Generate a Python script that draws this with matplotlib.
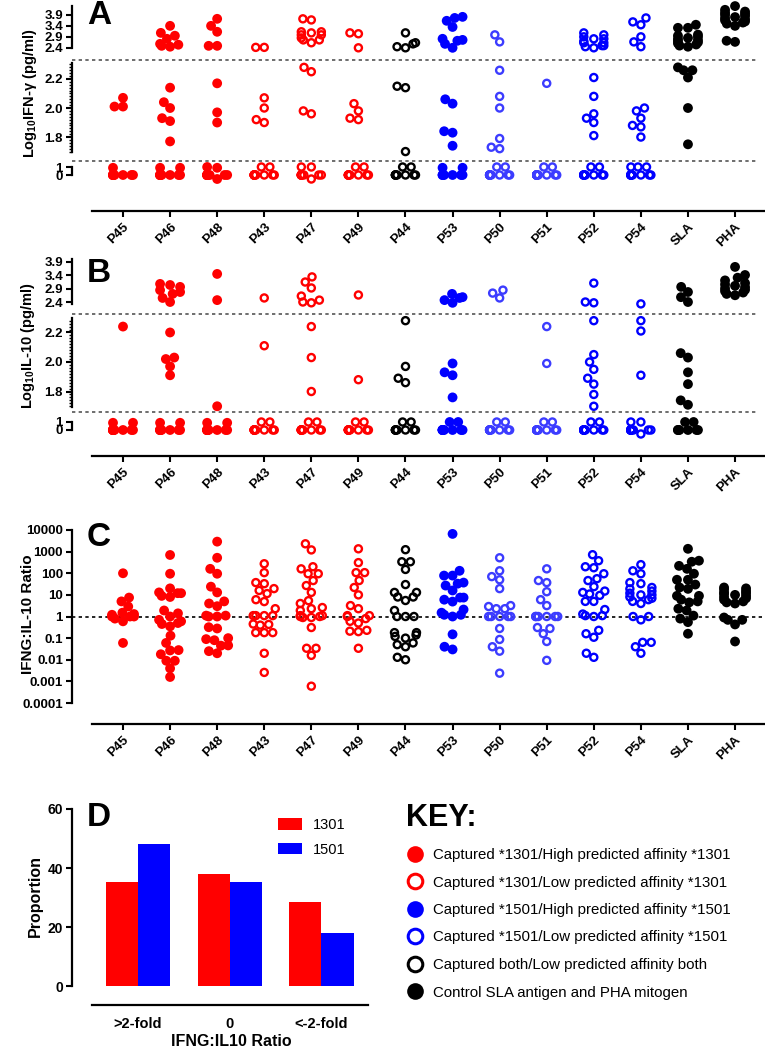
import numpy as np
import matplotlib
matplotlib.use('Agg')
import matplotlib.pyplot as plt
from matplotlib.lines import Line2D
from matplotlib.ticker import MultipleLocator, NullLocator

plt.rcParams['font.family'] = ['Liberation Sans', 'DejaVu Sans']
plt.rcParams['mathtext.fontset'] = 'custom'
plt.rcParams['mathtext.rm'] = 'Liberation Sans:bold'
plt.rcParams['mathtext.default'] = 'rm'

# ---- data ----
categories = ['P45', 'P46', 'P48', 'P43', 'P47', 'P49', 'P44',
              'P53', 'P50', 'P51', 'P52', 'P54', 'SLA', 'PHA']

# log10 IFN-gamma (pg/ml); 0 = below detection
ifng = {
    'P45': [2.07, 2.01, 2.01, 0, 0, 0, 0, 0, 0, 0, 0, 0.9],
    'P46': [3.40, 3.08, 2.95, 2.81, 2.58, 2.54, 2.49, 2.45, 2.14, 2.04, 2.00, 1.93, 1.91, 1.77,
            0, 0, 0, 0, 0, 0, 0, 0, 0.9, 0.9],
    'P48': [3.72, 3.40, 3.13, 2.49, 2.49, 2.17, 1.97, 1.90,
            0, 0, 0, 0, 0, 0, 0, 0, 0, 1.0, 0.9, -0.5],
    'P43': [2.42, 2.42, 2.07, 2.00, 1.92, 1.90, 0, 0, 0, 0, 0, 0, 0, 0, 0, 0, 1.0, 1.0],
    'P47': [3.72, 3.67, 3.13, 3.13, 3.08, 2.99, 2.99, 2.85, 2.76, 2.76, 2.63, 2.28, 2.25, 1.98, 1.96,
            0, 0, 0, 0, 0, 0, 0, 0, 1.0, 1.0, -0.5],
    'P49': [3.08, 3.04, 2.40, 2.03, 1.98, 1.93, 1.92, 0, 0, 0, 0, 0, 0, 0, 0, 0, 1.0, 1.0],
    'P44': [3.08, 2.63, 2.58, 2.45, 2.40, 2.15, 2.14, 1.70, 0, 0, 0, 0, 0, 0, 0, 0, 1.0, 1.0],
    'P53': [3.81, 3.76, 3.63, 3.35, 2.81, 2.76, 2.72, 2.58, 2.40, 2.06, 2.03, 1.84, 1.83, 1.74,
            0, 0, 0, 0, 0, 0, 0.9, 0.9],
    'P50': [2.99, 2.67, 2.26, 2.08, 2.00, 1.79, 1.73, 1.72, 0, 0, 0, 0, 0, 0, 0, 0, 0, 0, 1.0, 1.0],
    'P51': [2.17, 0, 0, 0, 0, 0, 0, 0, 0, 0, 0, 0, 0, 0, 0, 1.0, 1.0],
    'P52': [3.08, 2.99, 2.90, 2.81, 2.81, 2.70, 2.63, 2.63, 2.50, 2.50, 2.45, 2.40,
            2.21, 2.08, 1.96, 1.93, 1.90, 1.81, 0, 0, 0, 0, 0, 0, 0, 0, 0, 1.0, 1.0],
    'P54': [3.76, 3.58, 3.45, 2.90, 2.67, 2.45, 2.00, 1.98, 1.93, 1.88, 1.87, 1.80,
            0, 0, 0, 0, 0, 0, 0, 0, 0, 1.0, 1.0, 1.0],
    'SLA': [3.45, 3.31, 3.31, 3.00, 2.95, 2.90, 2.85, 2.80, 2.75, 2.70, 2.65, 2.60, 2.55, 2.50, 2.45,
            2.28, 2.26, 2.26, 2.21, 2.00, 1.75],
    'PHA': [4.30, 4.13, 4.05, 4.00, 3.95, 3.90, 3.85, 3.80, 3.75, 3.70, 3.65, 3.60, 3.55, 3.50,
            3.40, 2.72, 2.67],
}

# log10 IL-10 (pg/ml)
il10 = {
    'P45': [2.24, 0, 0, 0, 0, 0, 0, 0, 0, 0, 0, 0.9, 0.9],
    'P46': [3.07, 3.03, 2.96, 2.84, 2.77, 2.70, 2.55, 2.40, 2.20, 2.03, 2.02, 1.97, 1.91,
            0, 0, 0, 0, 0, 0, 0, 0, 0.9, 0.9],
    'P48': [3.44, 2.47, 1.70, 0, 0, 0, 0, 0, 0, 0, 0, 0, 0, 0.9, 0.9],
    'P43': [2.55, 2.11, 0, 0, 0, 0, 0, 0, 0, 0, 0, 0, 1.0, 1.0],
    'P47': [3.33, 3.14, 2.92, 2.62, 2.47, 2.40, 2.37, 2.24, 2.03, 1.80,
            0, 0, 0, 0, 0, 0, 0, 0, 0, 0, 1.0, 1.0],
    'P49': [2.66, 1.88, 0, 0, 0, 0, 0, 0, 0, 0, 0, 0, 1.0, 1.0],
    'P44': [2.28, 1.97, 1.89, 1.86, 0, 0, 0, 0, 0, 0, 0, 0, 1.0, 1.0],
    'P53': [2.70, 2.58, 2.55, 2.47, 2.37, 1.99, 1.93, 1.91, 1.76, 0, 0, 0, 0, 0, 0, 0, 0, 1.0, 1.0],
    'P50': [2.84, 2.73, 2.55, 0, 0, 0, 0, 0, 0, 0, 0, 0, 0, 1.0, 1.0],
    'P51': [2.24, 1.99, 0, 0, 0, 0, 0, 0, 0, 0, 0, 0, 1.0, 1.0],
    'P52': [3.10, 2.40, 2.37, 2.28, 2.05, 2.00, 1.95, 1.89, 1.85, 1.78, 1.70,
            0, 0, 0, 0, 0, 0, 0, 0, 0, 0, 1.0, 1.0],
    'P54': [2.33, 2.28, 2.21, 1.91, 0, 0, 0, 0, 0, 0, 0, 0, 0, 0, 0, 0, 1.0, 1.0, -0.5],
    'SLA': [2.96, 2.77, 2.58, 2.40, 2.06, 2.03, 1.93, 1.85, 1.74, 1.71, 0, 0, 0, 0, 0, 0, 1.0, 1.0],
    'PHA': [3.70, 3.40, 3.30, 3.20, 3.10, 3.05, 3.00, 2.95, 2.90, 2.85, 2.80, 2.75, 2.70, 2.65],
}

# IFNG:IL-10 ratio
ratio = {
    'P45': [100, 7.5, 5, 2.9, 1.5, 1.3, 1.2, 1.0, 1.0, 1.0, 0.8, 0.6, 0.06],
    'P46': [700, 95, 20, 13, 12, 12, 9, 8, 1.9, 1.4, 1.0, 0.7, 0.6, 0.5, 0.45, 0.35, 0.13,
            0.06, 0.028, 0.027, 0.018, 0.009, 0.009, 0.004, 0.0016],
    'P48': [2900, 520, 160, 95, 24, 13, 5, 4, 3, 1.1, 1.1, 1.0, 1.0, 0.32, 0.28, 0.1, 0.09,
            0.08, 0.046, 0.045, 0.025, 0.02],
    'P43': [275, 107, 37, 33, 19.5, 16, 11.5, 6, 4.9, 2.3, 1.1, 1.1, 1.1, 1.1, 0.45, 0.43, 0.4,
            0.18, 0.18, 0.18, 0.02, 0.0026],
    'P47': [2300, 1200, 200, 160, 95, 95, 46, 27, 13, 5.4, 4, 2.6, 2.3, 1.9, 1.1, 1.1, 1.0, 1.0,
            0.9, 0.9, 0.31, 0.034, 0.034, 0.016, 0.0006],
    'P49': [1350, 310, 107, 107, 46, 22, 10, 3.2, 2.3, 1.1, 1.1, 1.0, 0.8, 0.6, 0.5, 0.23, 0.21,
            0.2, 0.034],
    'P44': [1230, 340, 340, 150, 30, 13, 13, 8, 8, 5.5, 1.9, 1.0, 1.0, 1.0, 0.18, 0.18, 0.14,
            0.12, 0.1, 0.06, 0.05, 0.04, 0.013, 0.01],
    'P53': [6600, 130, 78, 78, 37, 33, 27, 16, 7.5, 7.5, 6, 4.9, 2.1, 1.5, 1.2, 1.2, 1.0, 0.15,
            0.04, 0.03],
    'P50': [520, 130, 70, 50, 19.5, 3.2, 2.9, 2.3, 2.3, 1.0, 1.0, 1.0, 1.0, 1.0, 0.28, 0.087,
            0.04, 0.025, 0.0024],
    'P51': [160, 46, 37, 14, 6, 3.2, 1.0, 1.0, 1.0, 1.0, 1.0, 1.0, 0.31, 0.28, 0.16, 0.07, 0.0094],
    'P52': [720, 380, 200, 180, 95, 56, 46, 24, 15, 13, 11, 9.5, 5, 5, 2.1, 1.3, 1.1, 1.1, 1.0,
            0.23, 0.16, 0.11, 0.02, 0.013],
    'P54': [250, 130, 95, 37, 33, 22, 19, 15, 12, 10, 10, 8, 7, 6, 5, 4, 1.0, 1.0, 0.7, 0.064,
            0.064, 0.04, 0.02],
    'SLA': [1350, 380, 340, 220, 160, 95, 50, 50, 30, 22, 19, 9, 9, 6, 5, 4.5, 2.3, 1.9, 1.1,
            0.8, 0.55, 0.16],
    'PHA': [22, 20, 18, 15, 13, 12, 11, 10, 9, 8, 7, 6, 5, 4.5, 4, 0.9, 0.7, 0.7, 0.43, 0.07],
}

ratio_groups = ['>2-fold', '0', '<-2-fold']
prop_1301 = [35.3, 38.0, 28.5]
prop_1501 = [48.3, 35.3, 18.0]

# ---- styling ----
RED, BLUE, LBLUE, BLACK = '#ff0000', '#0000ff', '#3c3cff', '#000000'
style = {
    'P45': (RED, True), 'P46': (RED, True), 'P48': (RED, True),
    'P43': (RED, False), 'P47': (RED, False), 'P49': (RED, False),
    'P44': (BLACK, False), 'P53': (BLUE, True),
    'P50': (LBLUE, False), 'P51': (LBLUE, False),
    'P52': (BLUE, False), 'P54': (BLUE, False),
    'SLA': (BLACK, True), 'PHA': (BLACK, True),
}

W, H = 765, 1050
fig = plt.figure(figsize=(W / 100, H / 100), dpi=100)

CAT0, CATDX = 123.0, 47.08          # pixel x of first category, pixels per category
XLIM = ((72 - CAT0) / CATDX, (765 - CAT0) / CATDX)
XAXIS_START = (92 - CAT0) / CATDX
TICKFONT = dict(fontsize=9.5, fontweight='bold')


def add_ax(x0, y0, x1, y1):
    ax = fig.add_axes([x0 / W, 1 - y1 / H, (x1 - x0) / W, (y1 - y0) / H])
    ax.patch.set_alpha(0)
    for s in ['top', 'right']:
        ax.spines[s].set_visible(False)
    ax.spines['left'].set_linewidth(1.6)
    ax.spines['bottom'].set_linewidth(1.6)
    ax.tick_params(axis='both', which='major', direction='out', length=4, width=1.5, pad=2.5)
    ax.tick_params(axis='both', which='minor', direction='out', length=2, width=1.0)
    return ax


def beeswarm(ypx, d=8.5, cap=10.0):
    ypx = np.asarray(ypx, dtype=float)
    out = np.zeros(len(ypx))
    placed = []
    for i in np.argsort(-ypx):
        y = ypx[i]
        cands = [0.0]
        for px, py in placed:
            dy = y - py
            if abs(dy) < d:
                dx = np.sqrt(d * d - dy * dy)
                cands += [px + dx, px - dx]
        cands.sort(key=lambda c: (abs(c), c))
        best = cands[-1]
        for c in cands:
            if all((c - px) ** 2 + (y - py) ** 2 >= d * d - 1e-6 for px, py in placed):
                best = c
                break
        best = float(np.clip(best, -cap, cap))
        placed.append((best, y))
        out[i] = best
    return out


def draw(ax, xs, ys, cat):
    color, filled = style[cat]
    if filled:
        ax.scatter(xs, ys, s=50, color=color, edgecolors='none', clip_on=False, zorder=3)
    else:
        ax.scatter(xs, ys, s=26, facecolors='none', edgecolors=color, linewidths=1.7,
                   clip_on=False, zorder=3)


def x_axis(ax):
    ax.set_xlim(*XLIM)
    ax.spines['bottom'].set_bounds(XAXIS_START, XLIM[1])
    ax.set_xticks(range(len(categories)))
    ax.set_xticklabels(categories, rotation=45, ha='right', va='top',
                       rotation_mode='anchor', fontsize=9.5, fontweight='bold')
    ax.tick_params(axis='x', pad=3)


def broken_panel(data, segs, dashes):
    # segs: list of (y_top_px, y_bottom_px, lo, hi, ticks, ticklabels, spine_bounds, minor)
    axes = []
    for (t, b, lo, hi, ticks, labels, bounds, minor) in segs:
        ax = add_ax(72, t, 765, b)
        ax.set_xlim(*XLIM)
        ax.set_ylim(lo, hi)
        ax.set_yticks(ticks)
        ax.set_yticklabels(labels, **TICKFONT)
        if minor:
            ax.yaxis.set_minor_locator(MultipleLocator(minor))
        ax.spines['left'].set_bounds(*bounds)
        ax.spines['bottom'].set_visible(False)
        ax.set_xticks([])
        axes.append(ax)
    x_axis(axes[-1])
    axes[-1].spines['bottom'].set_visible(True)

    for ci, cat in enumerate(categories):
        vals = np.asarray(data[cat], dtype=float)
        seg_id = np.zeros(len(vals), dtype=int)
        ypx = np.zeros(len(vals))
        for k, v in enumerate(vals):
            for j, (t, b, lo, hi, *_r) in enumerate(segs):
                if v >= lo or j == len(segs) - 1:
                    seg_id[k] = j
                    ypx[k] = b - (v - lo) / (hi - lo) * (b - t)
                    break
        off = beeswarm(ypx) / CATDX
        for j, ax in enumerate(axes):
            m = seg_id == j
            if m.any():
                draw(ax, ci + off[m], vals[m], cat)

    for yd in dashes:
        fig.add_artist(Line2D([72 / W, 758 / W], [1 - yd / H] * 2, transform=fig.transFigure,
                              color='#555555', lw=1.2, ls=(0, (2, 2))))
    return axes


# ---- Panel A ----
broken_panel(ifng, [
    (5, 50, 2.30, 4.35, [2.4, 2.9, 3.4, 3.9], ['2.4', '2.9', '3.4', '3.9'], (2.4, 4.3), None),
    (63, 152, 1.697, 2.31, [1.8, 2.0, 2.2], ['1.8', '2.0', '2.2'], (1.697, 2.31), 0.02),
    (164, 211, -4.5, 1.375, [0, 1], ['0', '1'], (0, 1), None),
], dashes=[60, 161])

# ---- Panel B ----
broken_panel(il10, [
    (259, 304, 2.326, 3.993, [2.4, 2.9, 3.4, 3.9], ['2.4', '2.9', '3.4', '3.9'], (2.326, 3.993), None),
    (318, 407, 1.695, 2.298, [1.8, 2.0, 2.2], ['1.8', '2.0', '2.2'], (1.695, 2.298), 0.02),
    (416, 456, -3.25, 1.75, [0, 1], ['0', '1'], (0, 1), None),
], dashes=[314, 412])

# ---- Panel C ----
axc = add_ax(72, 530, 765, 724)
axc.set_yscale('log')
lo_c, hi_c = -4.97, 4.0
axc.set_ylim(10 ** lo_c, 10 ** hi_c)
decades = [1e-4, 1e-3, 1e-2, 1e-1, 1, 10, 100, 1000, 10000]
axc.set_yticks(decades)
axc.set_yticklabels(['0.0001', '0.001', '0.01', '0.1', '1', '10', '100', '1000', '10000'],
                    **TICKFONT)
axc.yaxis.set_minor_locator(NullLocator())
axc.spines['left'].set_bounds(1e-4, 1e4)
x_axis(axc)
axc.axhline(1, color='black', lw=1.2, ls=(0, (2, 2)), zorder=1)
for ci, cat in enumerate(categories):
    vals = np.asarray(ratio[cat], dtype=float)
    ypx = 724 - (np.log10(vals) - lo_c) / (hi_c - lo_c) * (724 - 530)
    off = beeswarm(ypx, d=8.5, cap=11.0) / CATDX
    draw(axc, ci + off, vals, cat)

# ---- Panel D ----
axd = add_ax(72, 809, 368, 1005)
xg = np.arange(len(ratio_groups))
bw = 0.35
axd.bar(xg - bw / 2, prop_1301, bw, color='#ff0000', label='1301')
axd.bar(xg + bw / 2, prop_1501, bw, color='#0000ff', label='1501')
axd.set_xlim(-0.719, 2.507)
axd.set_ylim(-6.44, 60)
axd.spines['left'].set_bounds(0, 60)
axd.spines['bottom'].set_bounds(-0.5, 2.507)
axd.set_yticks([0, 20, 40, 60])
axd.set_yticklabels(['0', '20', '40', '60'], fontsize=10, fontweight='bold')
axd.set_xticks(xg)
axd.set_xticklabels(ratio_groups, fontsize=10.5, fontweight='bold')
axd.tick_params(axis='x', length=0, pad=9)
axd.legend(loc='upper left', bbox_to_anchor=(278 / W, 1 - 818 / H),
           bbox_transform=fig.transFigure, frameon=False, fontsize=10.5,
           handlelength=1.65, handleheight=0.8, handletextpad=0.75,
           labelspacing=0.75, borderpad=0, borderaxespad=0)

# ---- axis titles and panel letters ----
fig.text(30 / W, 1 - 93 / H, 'Log$_{10}$IFN-γ (pg/ml)', rotation=90, ha='center',
         va='center', fontsize=10.5, fontweight='bold')
fig.text(28 / W, 1 - 346 / H, 'Log$_{10}$IL-10 (pg/ml)', rotation=90, ha='center',
         va='center', fontsize=10.5, fontweight='bold')
fig.text(28 / W, 1 - 614 / H, 'IFNG:IL-10 Ratio', rotation=90, ha='center',
         va='center', fontsize=11, fontweight='bold')
fig.text(35 / W, 1 - 896 / H, 'Proportion', rotation=90, ha='center',
         va='center', fontsize=11.5, fontweight='bold')
fig.text(231 / W, 1 - 1041 / H, 'IFNG:IL10 Ratio', ha='center', va='center',
         fontsize=11.5, fontweight='bold')

for letter, yc in [('A', 15), ('B', 273), ('C', 538), ('D', 818)]:
    fig.text(99 / W, 1 - yc / H, letter, ha='center', va='center',
             fontsize=24, fontweight='bold')

# ---- KEY ----
fig.text(406 / W, 1 - 818 / H, 'KEY:', ha='left', va='center', fontsize=22, fontweight='bold')
key_labels = ['Captured *1301/High predicted affinity *1301',
              'Captured *1301/Low predicted affinity *1301',
              'Captured *1501/High predicted affinity *1501',
              'Captured *1501/Low predicted affinity *1501',
              'Captured both/Low predicted affinity both',
              'Control SLA antigen and PHA mitogen']
key_styles = [(RED, True), (RED, False), (BLUE, True), (BLUE, False), (BLACK, False), (BLACK, True)]
handles = []
for color, filled in key_styles:
    if filled:
        handles.append(Line2D([], [], ls='none', marker='o', markersize=12,
                              markerfacecolor=color, markeredgecolor=color, markeredgewidth=0))
    else:
        handles.append(Line2D([], [], ls='none', marker='o', markersize=10.5,
                              markerfacecolor='none', markeredgecolor=color, markeredgewidth=2.2))
fig.legend(handles, key_labels, loc='upper left', bbox_to_anchor=(407 / W, 1 - 848 / H),
           bbox_transform=fig.transFigure, frameon=False, fontsize=10.8,
           handlelength=1.05, handletextpad=0.7, labelspacing=0.9,
           borderpad=0, borderaxespad=0)

fig.savefig('out.png', dpi=100)
